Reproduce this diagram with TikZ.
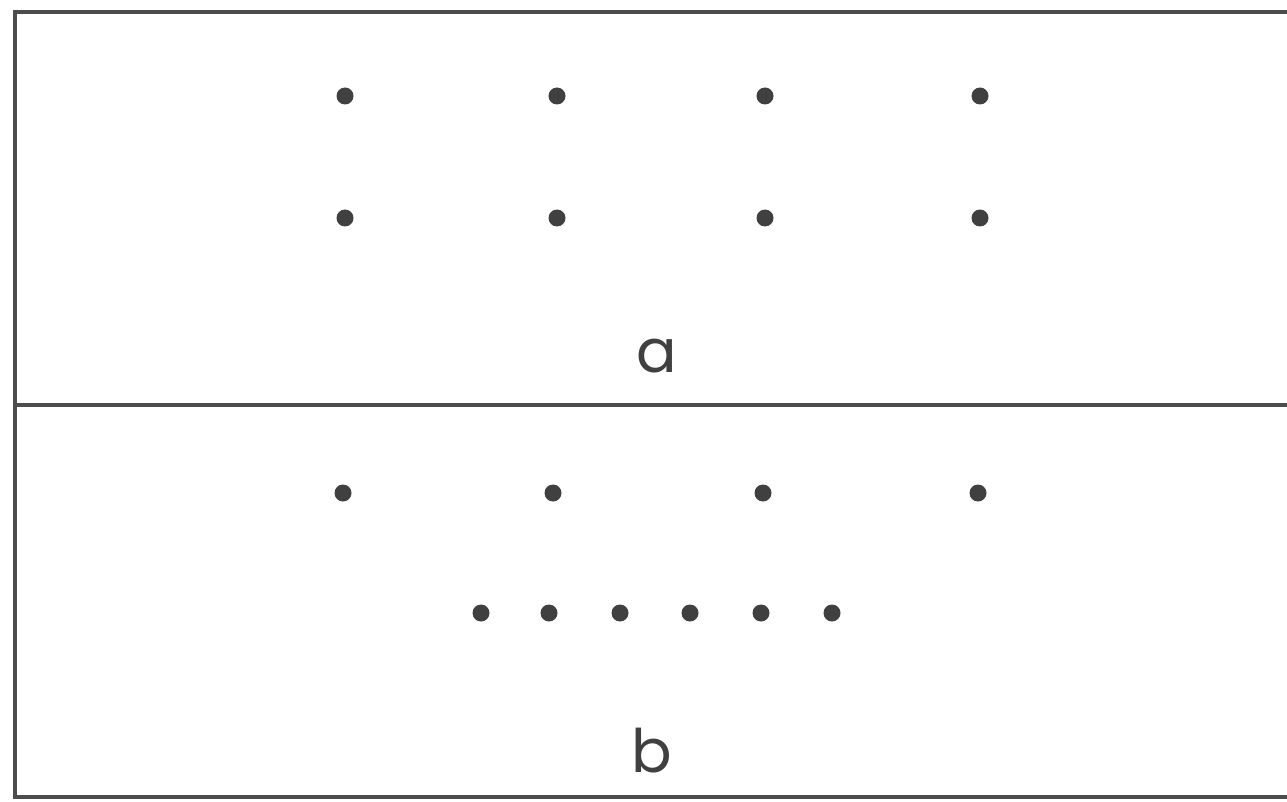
\documentclass[tikz,border=0pt]{standalone}
\usepackage{fontspec}
\setmainfont{Poppins}
\begin{document}
\begin{tikzpicture}[x=1pt,y=-1pt,
  pt/.style={circle,fill=black!75,inner sep=0pt,minimum size=17pt},
  frame/.style={draw=black!70,line width=3.5pt},
  lbl/.style={font=\fontsize{60}{60}\selectfont,text=black!75,inner sep=0pt}]
\useasboundingbox (0,0) rectangle (1287,802);
\coordinate (tl) at (15,12);
\coordinate (tr) at (1287,12);
\coordinate (ml) at (15,405);
\coordinate (mr) at (1287,405);
\coordinate (bl) at (15,797);
\coordinate (br) at (1287,797);
\draw[frame] (tr) -- (tl) -- (bl) -- (br);
\draw[frame] (ml) -- (mr);
% panel a
\foreach \x [count=\i] in {345,557,765,980} {
  \node[pt] (a1\i) at (\x,96) {};
  \node[pt] (a2\i) at (\x,218) {};
}
\node[lbl,anchor=base] (la) at (657,372) {a};
% panel b
\foreach \x [count=\i] in {343,553,763,978} {
  \node[pt] (b1\i) at (\x,493) {};
}
\foreach \x [count=\i] in {481,549,620,690,761,832} {
  \node[pt] (b2\i) at (\x,613) {};
}
\node[lbl,anchor=base] (lb) at (652,772) {b};
\end{tikzpicture}
\end{document}
